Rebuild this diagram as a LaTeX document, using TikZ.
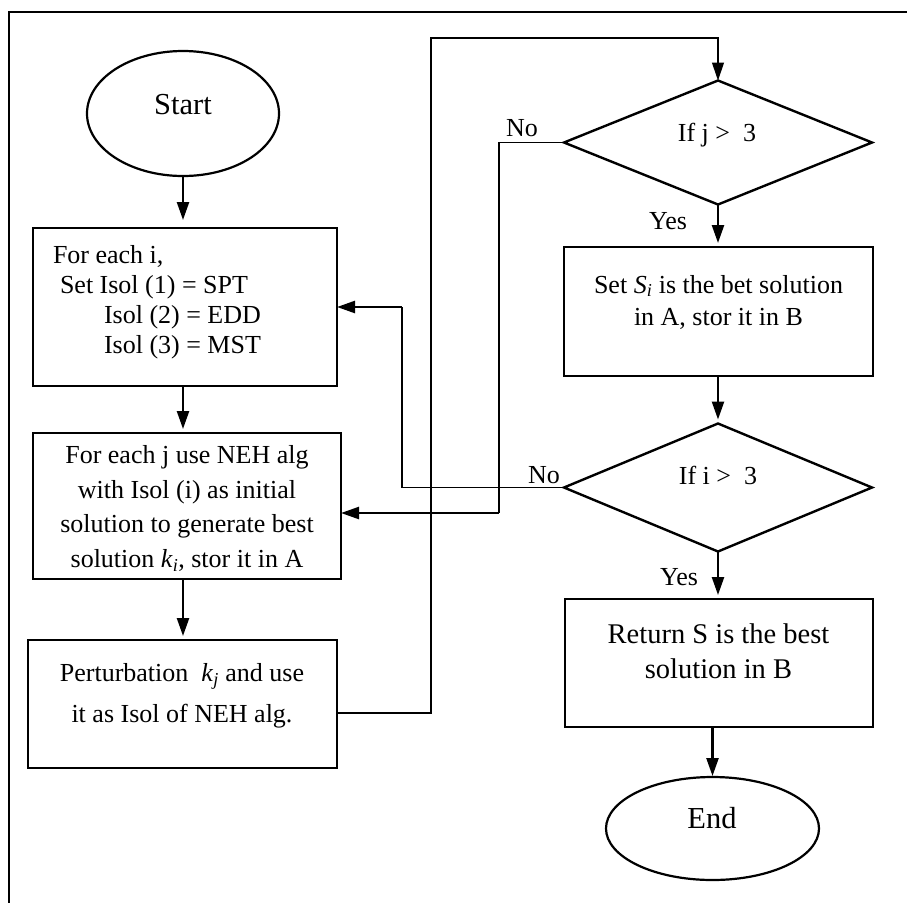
\documentclass[tikz,border=0pt]{standalone}
\usepackage{fontspec}
\setmainfont{Liberation Serif}
\usetikzlibrary{shapes.geometric,arrows.meta,calc}
\begin{document}
\begin{tikzpicture}[x=1pt,y=-1pt,
  every node/.style={inner sep=0pt, outer sep=0pt},
  term/.style={draw, ellipse, line width=2.2pt},
  stepbox/.style={draw, rectangle, line width=2.8pt},
  decide/.style={draw, diamond, line width=2.4pt},
  txt/.style={font=\fontsize{26}{34.5}\selectfont, align=center},
  lbl/.style={font=\fontsize{26}{30}\selectfont},
  tip/.style={-{Triangle[length=18pt,width=12pt]}},
  flow/.style={line width=2.4pt, tip, shorten >=4pt},
  thinline/.style={line width=1.1pt},
]
\useasboundingbox (0,0) rectangle (907,903);
% frame
\draw[line width=2.2pt] (907,12) -- (9,12) -- (9,903);

% terminals
\node[term, minimum width=192pt, minimum height=125pt] (start) at (183,113.5) {};
\node[font=\fontsize{30.5}{31}\selectfont] (starttxt) at (183,105) {Start};
\node[term, minimum width=213pt, minimum height=103pt] (end) at (712.5,828.5) {};
\node[font=\fontsize{30.5}{31}\selectfont] (endtxt) at (712,818) {End};

% left column boxes
\node[stepbox, minimum width=304pt, minimum height=158pt] (b1) at (185,307) {};
\node[lbl, align=left, anchor=west] (b1txt) at (53,302)
  {For each i,\\ \hspace*{7pt}Set Isol (1) = SPT\\ \hspace*{51pt}Isol (2) = EDD\\ \hspace*{51pt}Isol (3) = MST};

\node[stepbox, minimum width=308pt, minimum height=146pt] (b2) at (187,506) {};
\node[txt] (b2txt) at (187,508.5)
  {For each j use NEH alg\\ with Isol (i) as initial\\ solution to generate best\\ solution \textit{k}\textsubscript{\textit{i}}, stor it in A};

\node[stepbox, minimum width=309pt, minimum height=128pt] (b3) at (182.5,704) {};
\node[txt, font=\fontsize{26}{41}\selectfont] (b3txt) at (182,696)
  {Perturbation \ \textit{k}\textsubscript{\textit{j}} and use\\ it as Isol of NEH alg.};

% right column
\node[decide, minimum width=308pt, minimum height=124pt] (d1) at (718,142.5) {};
\node[lbl] (d1txt) at (717,135) {If j > \ 3};

\node[stepbox, minimum width=309pt, minimum height=129pt] (b4) at (718.5,311.5) {};
\node[txt, font=\fontsize{26}{32}\selectfont] (b4txt) at (718.5,302)
  {Set \textit{S}\textsubscript{\textit{i}} is the bet solution\\ in A, stor it in B};

\node[decide, minimum width=308pt, minimum height=128pt] (d2) at (718,487.5) {};
\node[lbl] (d2txt) at (718,475) {If i > \ 3};

\node[stepbox, minimum width=308pt, minimum height=128pt] (b5) at (719,663) {};
\node[txt, font=\fontsize{28.5}{35}\selectfont] (b5txt) at (718.5,651)
  {Return S is the best\\ solution in B};

% labels
\node[lbl] (no1) at (522,128.5) {No};
\node[lbl] (no2) at (544,475) {No};
\node[lbl] (yes1) at (668,221.5) {Yes};
\node[lbl] (yes2) at (679,577.5) {Yes};

% main flow
\draw[flow, shorten >=8pt] (start.south) -- (start.south |- b1.north);
\draw[flow] (b1.south -| start.south) -- (b2.north -| start.south);
\draw[flow] (b2.south -| start.south) -- (b3.north -| start.south);
\draw[flow] (d1.south) -- (d1.south |- b4.north);
\draw[flow] (b4.south -| d2.north) -- (d2.north);
\draw[flow] (d2.south) -- (d2.south |- b5.north);
\draw[flow, shorten >=1pt] (b5.south -| end.north) -- (end.north);

% loop from perturbation back to j-test
\coordinate (tl) at (431,38);
\draw[thinline, tip] ([yshift=-9pt]b3.east) -| (tl) -| (d1.north);

% No branch of j-test back to NEH box
\coordinate (n1) at (499,142.5);
\coordinate (n2) at (499,513);
\draw[thinline] (d1.west) -- (n1) -- (n2);
\draw[flow, shorten >=0pt] (n2) -- (n2 -| b2.east);

% No branch of i-test back to first box
\coordinate (m1) at (402,487.5);
\coordinate (m2) at (402,307);
\draw[thinline] (d2.west) -- (m1) -- (m2);
\draw[flow, shorten >=0pt] (m2) -- (m2 -| b1.east);
\end{tikzpicture}
\end{document}
